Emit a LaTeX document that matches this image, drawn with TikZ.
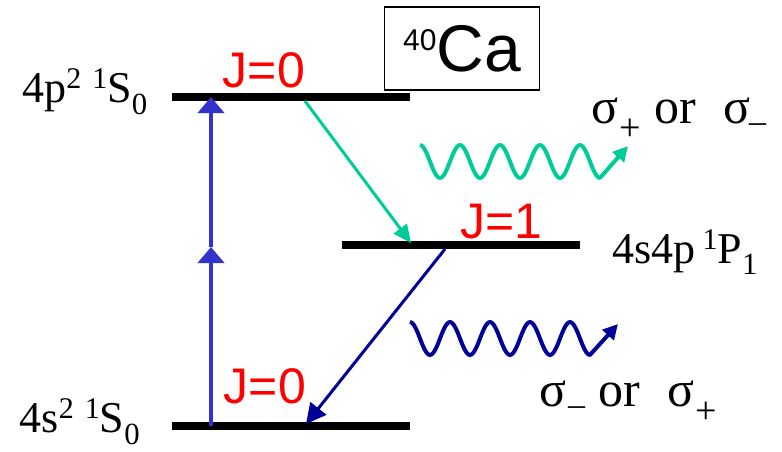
\documentclass[tikz,border=0pt]{standalone}
\usepackage{fontspec}
\setmainfont{Liberation Serif}
\newfontfamily\arialfont{Liberation Sans}
\usetikzlibrary{arrows.meta}
\definecolor{pumpblue}{RGB}{51,51,204}
\definecolor{decayteal}{RGB}{0,204,153}
\definecolor{decaynavy}{RGB}{0,0,153}
\newcommand{\polplus}{\raisebox{-17pt}{\fontsize{38}{38}\selectfont+}}
\newcommand{\polminus}{\raisebox{-9pt}{\fontsize{34}{34}\selectfont–}}
\newcommand{\lvlsup}[1]{\raisebox{14pt}{\fontsize{30}{30}\selectfont #1}}
\begin{document}
\begin{tikzpicture}[x=1pt,y=-1pt,
  level/.style={line width=8pt},
  jlabel/.style={text=red,font=\arialfont\fontsize{50}{50}\selectfont},
  statelabel/.style={font=\fontsize{44}{44}\selectfont},
  pollabel/.style={font=\fontsize{50}{50}\selectfont,inner sep=0pt,anchor=base west}]
\useasboundingbox (0,0) rectangle (782,451);
% energy levels
\coordinate (upL) at (172,97);  \coordinate (upR) at (410,97);
\coordinate (midL) at (342,245); \coordinate (midR) at (580,245);
\coordinate (lowL) at (172,426); \coordinate (lowR) at (410,426);
\draw[level] (upL) -- (upR);
\draw[level] (midL) -- (midR);
\draw[level] (lowL) -- (lowR);
% state labels
\node[statelabel] (upname) at (85,92) {4p\lvlsup{2} \lvlsup{1}S\textsubscript{0}};
\node[statelabel] (midname) at (685,252) {4s4p\,\lvlsup{1}P\textsubscript{1}};
\node[statelabel] (lowname) at (80,422) {4s\lvlsup{2} \lvlsup{1}S\textsubscript{0}};
\node[jlabel] (jup) at (264,70) {J=0};
\node[jlabel] (jmid) at (501,222) {J=1};
\node[jlabel] (jlow) at (265,386) {J=0};
\node[draw,line width=1.2pt,inner sep=2pt,minimum width=155pt,minimum height=83pt,
  font=\arialfont\fontsize{66}{66}\selectfont] (iso) at (462,48.5)
  {\raisebox{0.6ex}{\fontsize{30}{30}\selectfont 40}Ca};
% two-photon excitation
\coordinate (pumpA) at (211,426); \coordinate (pumpB) at (211,247); \coordinate (pumpC) at (211,97);
\draw[pumpblue,line width=4pt,-{Triangle[length=16pt,width=26pt]}] (pumpA) -- (pumpB);
\draw[pumpblue,line width=4pt,-{Triangle[length=16pt,width=26pt]}] (pumpB) -- (pumpC);
% cascade decay
\coordinate (tealA) at (305,101); \coordinate (tealB) at (411,243);
\draw[decayteal,line width=3pt,-{Triangle[length=18pt,width=16pt]}] (tealA) -- (tealB);
\coordinate (navyA) at (445,249); \coordinate (navyB) at (306,424);
\draw[decaynavy,line width=3pt,-{Triangle[length=20pt,width=20pt]}] (navyA) -- (navyB);
% emitted photons
\coordinate (photA) at (628,146);
\draw[decayteal,line width=4pt,line join=round,-{Triangle[length=15pt,width=15pt]}]
  plot[domain=0:4.5,samples=100,smooth] ({420+40*\x},{161.5-16.5*cos(360*\x)}) -- (photA);
\coordinate (photB) at (618,324);
\draw[decaynavy,line width=4pt,line join=round,-{Triangle[length=15pt,width=15pt]}]
  plot[domain=0:4.5,samples=100,smooth] ({410+40*\x},{338.5-16.5*cos(360*\x)}) -- (photB);
\node[pollabel] (polup) at (591,123) {σ\kern1pt\polplus\hspace{14pt}or\hspace{27pt}σ\kern-1pt\polminus};
\node[pollabel] (pollow) at (539,406) {σ\kern2pt\polminus\hspace{13pt}or\hspace{28pt}σ\kern1pt\polplus};
\end{tikzpicture}
\end{document}
